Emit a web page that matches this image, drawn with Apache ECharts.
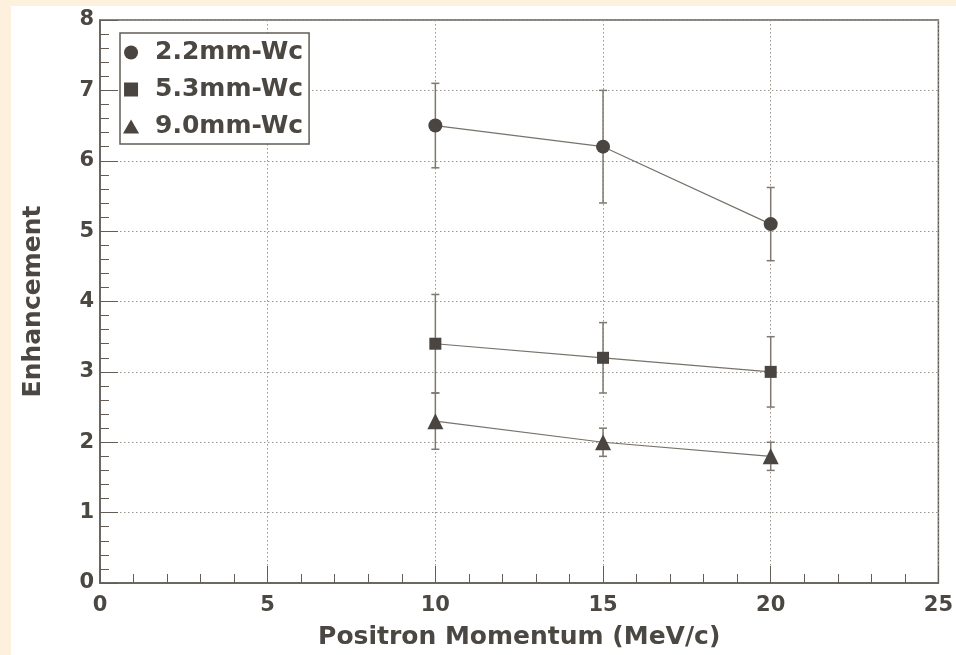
<!DOCTYPE html>
<html>
<head>
<meta charset="utf-8">
<script src="https://cdn.jsdelivr.net/npm/echarts@6/dist/echarts.min.js"></script>
<style>
html,body{margin:0;padding:0;background:#ffffff;}
#chart{width:956px;height:655px;}
</style>
</head>
<body>
<div id="chart"></div>
<script>
// ---- data ----
const momentum = [10, 15, 20];
const seriesNames = ['2.2mm-Wc', '5.3mm-Wc', '9.0mm-Wc'];
const enh22 = [6.5, 6.2, 5.1];
const err22 = [0.6, 0.8, 0.52];
const enh53 = [3.4, 3.2, 3.0];
const err53 = [0.7, 0.5, 0.5];
const enh90 = [2.3, 2.0, 1.8];
const err90 = [0.4, 0.2, 0.2];
const xTicks = [0, 5, 10, 15, 20, 25];
const yTicks = [0, 1, 2, 3, 4, 5, 6, 7, 8];

const FONT = '"DejaVu Sans", sans-serif';
const TXT = '#4b4742';
const MARK = '#4a4540';
const LINE = '#77726b';
const ERR = '#7d7870';
const GRIDC = '#9a958e';
const AXC = '#625d57';

function pairs(vals) { return momentum.map((x, i) => [x, vals[i]]); }
function errData(vals, errs) { return momentum.map((x, i) => [x, vals[i] - errs[i], vals[i] + errs[i]]); }

function errSeries(vals, errs) {
  return {
    type: 'custom',
    z: 1,
    silent: true,
    data: errData(vals, errs),
    renderItem: function (params, api) {
      const lo = api.coord([api.value(0), api.value(1)]);
      const hi = api.coord([api.value(0), api.value(2)]);
      const w = 4;
      const st = { stroke: ERR, lineWidth: 1.5 };
      return {
        type: 'group',
        children: [
          { type: 'line', shape: { x1: lo[0], y1: lo[1], x2: hi[0], y2: hi[1] }, style: st },
          { type: 'line', shape: { x1: lo[0] - w, y1: lo[1], x2: lo[0] + w, y2: lo[1] }, style: st },
          { type: 'line', shape: { x1: hi[0] - w, y1: hi[1], x2: hi[0] + w, y2: hi[1] }, style: st }
        ]
      };
    }
  };
}

function lineSeries(name, vals, symbol, size) {
  return {
    name: name,
    type: 'line',
    z: 3,
    data: pairs(vals),
    symbol: symbol,
    symbolSize: size,
    showAllSymbol: true,
    itemStyle: { color: MARK, borderWidth: 0 },
    lineStyle: { color: LINE, width: 1.2 },
    emphasis: { disabled: true },
    animation: false
  };
}

const SQUARE = 'path://M0,0L10,0L10,10L0,10Z';
const CIRCLE = 'path://M10,5A5,5,0,1,1,0,5A5,5,0,1,1,10,5Z';
const TRI = 'path://M5,0L10,8.7L0,8.7Z';

const chart = echarts.init(document.getElementById('chart'), null, { renderer: 'canvas' });
chart.setOption({
  animation: false,
  backgroundColor: '#ffffff',
  textStyle: { fontFamily: FONT },
  graphic: [
    { type: 'rect', shape: { x: 0, y: 0, width: 956, height: 6 }, style: { fill: '#fdf1dd' }, silent: true, z: -10 },
    { type: 'rect', shape: { x: 0, y: 0, width: 11, height: 655 }, style: { fill: '#fdf1dd' }, silent: true, z: -10 }
  ],
  grid: {
    left: 100, right: 15, top: 20, bottom: 72,
    show: true, borderColor: AXC, borderWidth: 1.5, backgroundColor: '#ffffff'
  },
  legend: {
    orient: 'vertical',
    left: 120, top: 33,
    padding: [7, 6, 5, 3],
    itemGap: 12,
    itemWidth: 22, itemHeight: 14,
    backgroundColor: '#ffffff',
    borderColor: AXC, borderWidth: 1.5, borderRadius: 0,
    selectedMode: false,
    textStyle: { fontFamily: FONT, fontWeight: 'bold', fontSize: 25, color: TXT, padding: [0, 0, 0, 8], lineHeight: 25 },
    data: [
      { name: seriesNames[0], icon: CIRCLE, itemStyle: { color: MARK } },
      { name: seriesNames[1], icon: SQUARE, itemStyle: { color: MARK } },
      { name: seriesNames[2], icon: TRI, itemStyle: { color: MARK } }
    ]
  },
  xAxis: {
    type: 'value',
    min: xTicks[0], max: xTicks[xTicks.length - 1], interval: 5,
    name: 'Positron Momentum (MeV/c)',
    nameLocation: 'middle', nameGap: 42,
    nameTextStyle: { fontFamily: FONT, fontWeight: 'bold', fontSize: 25, color: TXT },
    axisLine: { lineStyle: { color: AXC, width: 1.5 } },
    axisTick: { inside: true, length: 17, lineStyle: { color: AXC, width: 1 } },
    minorTick: { show: true, splitNumber: 5, length: 9, lineStyle: { color: AXC, width: 1 } },
    axisLabel: { fontFamily: FONT, fontWeight: 'bold', fontSize: 21, color: TXT, margin: 12 },
    splitLine: { show: true, lineStyle: { color: GRIDC, width: 1, type: [1.5, 2.5] } }
  },
  yAxis: {
    type: 'value',
    min: yTicks[0], max: yTicks[yTicks.length - 1], interval: 1,
    name: 'Enhancement',
    nameLocation: 'middle', nameGap: 54,
    nameTextStyle: { fontFamily: FONT, fontWeight: 'bold', fontSize: 25, color: TXT },
    axisLine: { lineStyle: { color: AXC, width: 1.5 } },
    axisTick: { inside: true, length: 18, lineStyle: { color: AXC, width: 1 } },
    minorTick: { show: true, splitNumber: 5, length: 9, lineStyle: { color: AXC, width: 1 } },
    axisLabel: { fontFamily: FONT, fontWeight: 'bold', fontSize: 21, color: TXT, margin: 6 },
    splitLine: { show: true, lineStyle: { color: GRIDC, width: 1, type: [1.5, 2.5] } }
  },
  series: [
    errSeries(enh22, err22),
    errSeries(enh53, err53),
    errSeries(enh90, err90),
    lineSeries(seriesNames[0], enh22, 'circle', 14),
    lineSeries(seriesNames[1], enh53, 'rect', 12),
    lineSeries(seriesNames[2], enh90, 'triangle', 16)
  ]
});
</script>
</body>
</html>
